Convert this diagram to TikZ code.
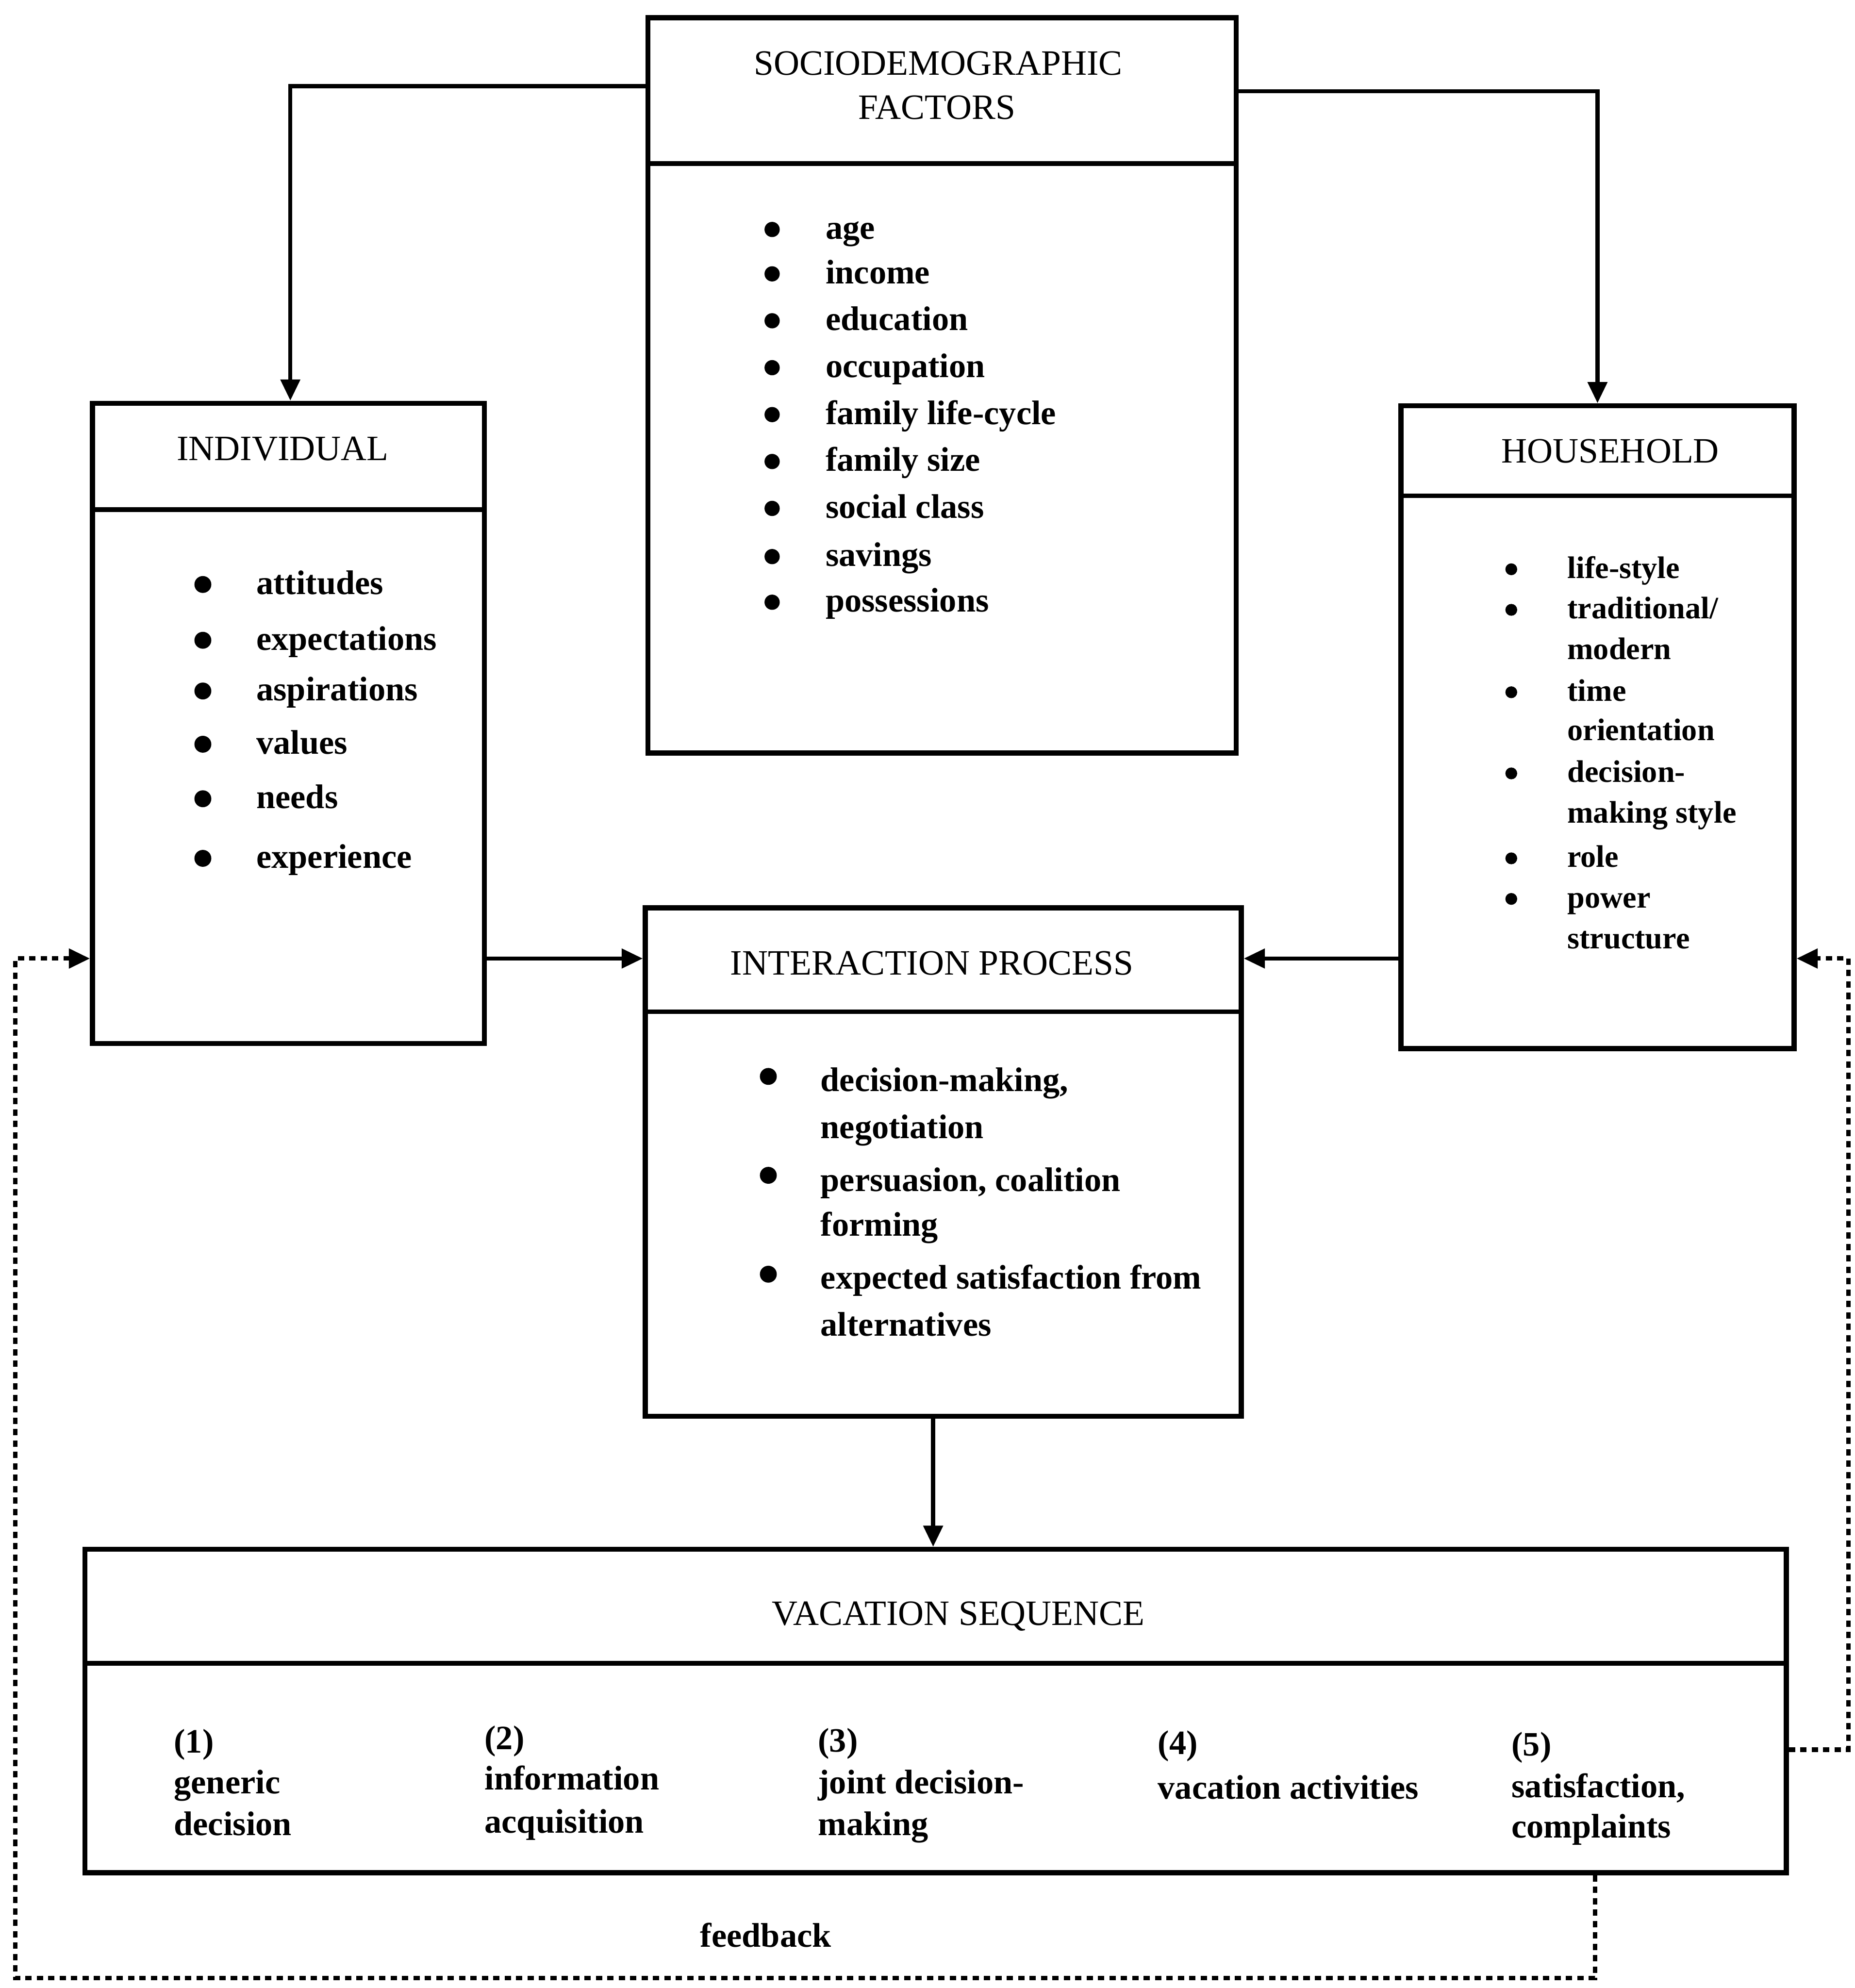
\documentclass[tikz,border=0pt]{standalone}
\usepackage{fontspec}
\setmainfont{Liberation Serif}
\usetikzlibrary{arrows.meta,fit}
\begin{document}
\begin{tikzpicture}[x=0.03cm,y=-0.03cm,
  box/.style={draw,line width=3.4pt,inner sep=0pt},
  divider/.style={line width=3.2pt},
  conn/.style={line width=2.8pt,-{Triangle[length=0.5cm,width=0.45cm]}},
  fb/.style={line width=3pt,dash pattern=on 0.15cm off 0.12cm,-{Triangle[length=0.5cm,width=0.45cm]}},
  title/.style={font=\fontsize{24}{29}\selectfont,inner sep=0pt,anchor=mid,yshift=-0.1cm},
  item/.style={font=\bfseries\fontsize{23}{28}\selectfont,inner sep=0pt,anchor=mid west,yshift=-0.15cm},
  hitem/.style={font=\bfseries\fontsize{21}{25}\selectfont,inner sep=0pt,anchor=mid west,yshift=-0.13cm},
]
\useasboundingbox (0,0) rectangle (1463,1568);

% ---------- boxes ----------
\node[box,fit={(511,14) (975,594)}] (socio) {};
\node[box,fit={(73,318) (382,823)}] (indiv) {};
\node[box,fit={(1105,320) (1415,827)}] (house) {};
\node[box,fit={(509,716) (979,1117)}] (inter) {};
\node[box,fit={(67,1222) (1409,1477)}] (vac) {};

% dividers
\draw[divider] (511,129) -- (975,129);
\draw[divider] (73,402) -- (382,402);
\draw[divider] (1105,391) -- (1415,391);
\draw[divider] (509,798) -- (979,798);
\draw[divider] (67,1312) -- (1409,1312);

% ---------- titles ----------
\node[title] (tsocio1) at (740,53) {SOCIODEMOGRAPHIC};
\node[title] (tsocio2) at (739,88) {FACTORS};
\node[title] (tindiv) at (223,357) {INDIVIDUAL};
\node[title] (thouse) at (1270,359) {HOUSEHOLD};
\node[title] (tinter) at (735,763) {INTERACTION PROCESS};
\node[title] (tvac) at (756,1276) {VACATION SEQUENCE};

% ---------- sociodemographic items ----------
\foreach \y/\t [count=\i] in {181/age,216/income,253/education,290/occupation,327/family life-cycle,364/family size,401/social class,439/savings,475/possessions}{
  \fill (609,\y) circle (0.18cm);
  \node[item] (so\i) at (651,\y) {\t};
}

% ---------- individual items ----------
\foreach \y/\t [count=\i] in {461/attitudes,505/expectations,545/aspirations,587/values,630/needs,677/experience}{
  \fill (160,\y) circle (0.2cm);
  \node[item] (in\i) at (202,\y) {\t};
}

% ---------- household items ----------
\foreach \y in {449,481,546,610,677,709}{
  \fill (1192,\y) circle (0.14cm);
}
\foreach \y/\t [count=\i] in {449/{life-style},481/{traditional/},513/{modern},546/{time},577/{orientation},610/{decision-},642/{making style},677/{role},709/{power},741/{structure}}{
  \node[hitem] (ho\i) at (1236,\y) {\t};
}

% ---------- interaction items ----------
\foreach \y in {849,927,1005}{
  \fill (606,\y) circle (0.2cm);
}
\node[item] (ip1) at (647,853) {decision-making,};
\node[item] (ip2) at (647,890) {negotiation};
\node[item] (ip3) at (647,932) {persuasion, coalition};
\node[item] (ip4) at (647,967) {forming};
\node[item] (ip5) at (647,1009) {expected satisfaction from};
\node[item] (ip6) at (647,1046) {alternatives};

% ---------- vacation sequence items ----------
\node[item] (v1a) at (137,1375) {(1)};
\node[item] (v1b) at (137,1407) {generic};
\node[item] (v1c) at (137,1440) {decision};
\node[item] (v2a) at (382,1372) {(2)};
\node[item] (v2b) at (382,1404) {information};
\node[item] (v2c) at (382,1438) {acquisition};
\node[item] (v3a) at (645,1374) {(3)};
\node[item] (v3b) at (645,1407) {joint decision-};
\node[item] (v3c) at (645,1440) {making};
\node[item] (v4a) at (913,1376) {(4)};
\node[item] (v4b) at (913,1411) {vacation activities};
\node[item] (v5a) at (1192,1377) {(5)};
\node[item] (v5b) at (1192,1410) {satisfaction,};
\node[item] (v5c) at (1192,1442) {complaints};

\node[item,anchor=mid] (fblabel) at (604,1528) {feedback};

% ---------- connectors ----------
\coordinate (s1) at (229,68);
\coordinate (s2) at (1260,72);
\draw[conn] (socio.west |- s1) -- (s1) -- (s1 |- indiv.north);
\draw[conn] (socio.east |- s2) -- (s2) -- (s2 |- house.north);

\coordinate (midrow) at (740,756);
\draw[conn] (indiv.east |- midrow) -- (inter.west |- midrow);
\draw[conn] (house.west |- midrow) -- (inter.east |- midrow);

\coordinate (iv) at (736,1170);
\draw[conn] (iv |- inter.south) -- (iv |- vac.north);

% feedback loops
\coordinate (fbA) at (1258,1560);
\coordinate (fbB) at (12,1560);
\coordinate (fbC) at (12,756);
\draw[fb] (fbA |- vac.south) -- (fbA) -- (fbB) -- (fbC) -- (indiv.west |- fbC);

\coordinate (fbD) at (1458,1380);
\coordinate (fbE) at (1458,756);
\draw[fb] (vac.east |- fbD) -- (fbD) -- (fbE) -- (house.east |- fbE);
\end{tikzpicture}
\end{document}
